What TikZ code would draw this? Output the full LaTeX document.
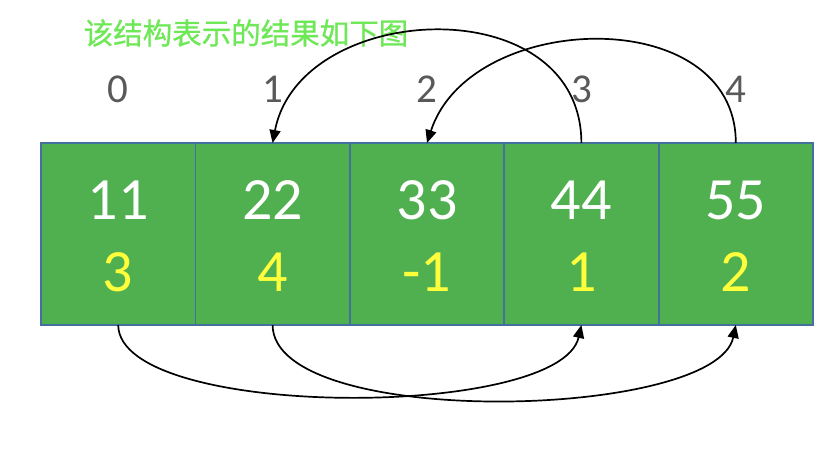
\documentclass[tikz,border=0pt]{standalone}
\usepackage{fontspec}
\setmainfont{Carlito}
\newfontfamily\cjk{Noto Sans CJK SC}[FakeBold=0.8]
\usetikzlibrary{arrows.meta}
\definecolor{cellfill}{HTML}{50B050}
\definecolor{celledge}{HTML}{41719C}
\definecolor{idxgray}{HTML}{595959}
\definecolor{nextyel}{HTML}{FFFF3C}
\definecolor{titlegreen}{HTML}{6FE858}
\begin{document}
\begin{tikzpicture}[x=1pt,y=-1pt,
 cell/.style={fill=cellfill, minimum width=154.4pt, minimum height=182pt, inner sep=0pt, outer sep=0pt},
 edge/.style={draw=celledge, line width=1.8pt},
 val/.style={text=white, font=\fontsize{60}{60}\selectfont, inner sep=0pt},
 nxt/.style={text=nextyel, font=\fontsize{60}{60}\selectfont, inner sep=0pt},
 idx/.style={text=idxgray, font=\fontsize{41}{41}\selectfont, inner sep=0pt},
 title/.style={text=titlegreen, font=\cjk\fontsize{29.5}{29.5}\selectfont, inner sep=0pt},
 link/.style={line width=1.7pt, -{Triangle[length=13pt,width=11pt]}}]
\useasboundingbox[fill=white] (0,0) rectangle (838,462);

\node[title] (t) at (246,33) {该结构表示的结果如下图};

\foreach \i/\x in {0/118.2, 1/272.6, 2/427, 3/581.4, 4/735.8}{
  \node[cell] (c\i) at (\x,234) {};
}
\foreach \i in {0,...,4}{
  \draw[edge] (c\i.north west) rectangle (c\i.south east);
}
\foreach \i/\x/\v/\n in {0/118.2/11/3, 1/272.6/22/4, 2/427/33/-1, 3/581.4/44/1, 4/735.8/55/2}{
  \node[idx] (i\i) at (\x,89) {\i};
  \node[val] (v\i) at (\x,200) {\v};
  \node[nxt] (n\i) at (\x,272) {\n};
}

\draw[link] (c3.north) .. controls (581,-13) and (300,0) .. (c1.north);
\draw[link] (c4.north) .. controls (736,2) and (470,10) .. (c2.north);
\draw[link] (c0.south) .. controls (119,420) and (560,420) .. (c3.south);
\draw[link] (c1.south) .. controls (273,430) and (716,420) .. (c4.south);
\end{tikzpicture}
\end{document}
